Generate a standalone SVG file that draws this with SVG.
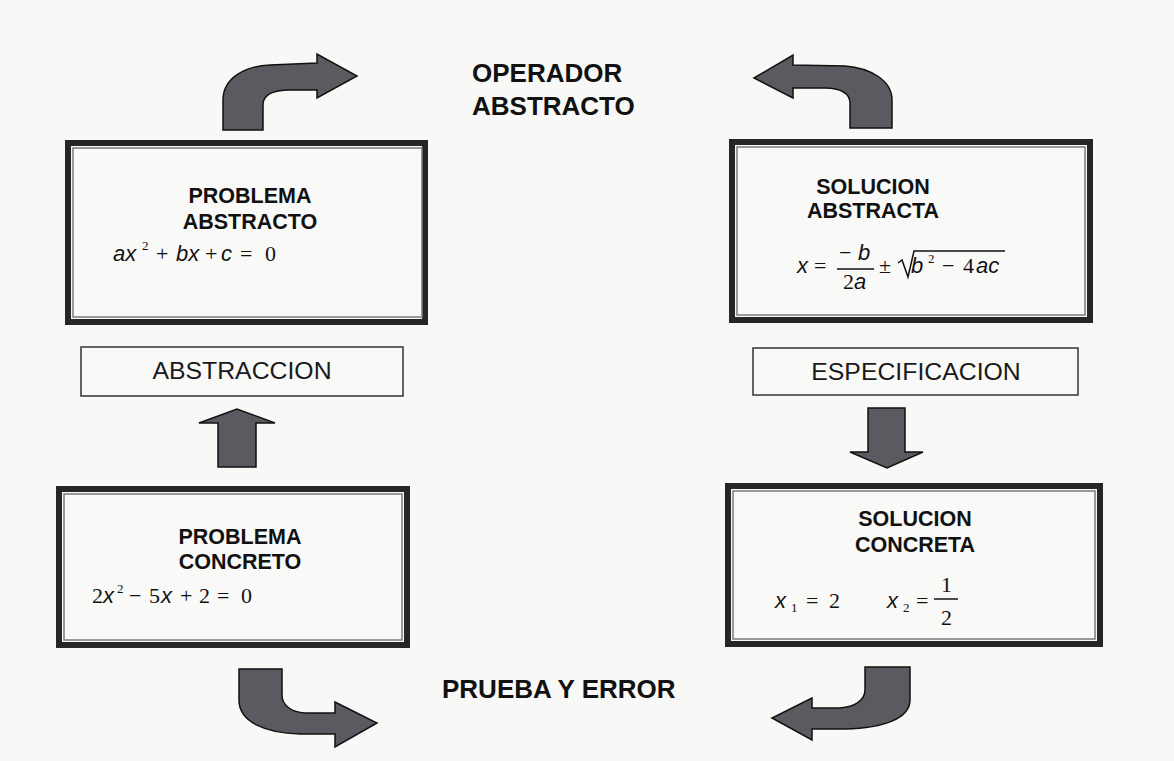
<svg xmlns="http://www.w3.org/2000/svg" width="1174" height="761" viewBox="0 0 1174 761">
<style>
.bg{fill:#f8f8f6}
.outer{fill:#f9f9f7;stroke:#262626;stroke-width:6}
.inner{fill:none;stroke:#7a7a7a;stroke-width:1.5}
.lbl{fill:#f9f9f7;stroke:#333;stroke-width:1.5}
.title{font-family:"Liberation Sans",Arial,sans-serif;font-weight:bold;font-size:21.5px;fill:#111;text-anchor:middle}
.big{font-family:"Liberation Sans",Arial,sans-serif;font-weight:bold;font-size:26px;fill:#111}
.lbltxt{font-family:"Liberation Sans",Arial,sans-serif;font-size:24.8px;fill:#1a1a1a;text-anchor:middle}
.v{font-family:"Liberation Sans",Arial,sans-serif;font-style:italic;font-size:22px;fill:#111}
.n{font-family:"Liberation Serif","Times New Roman",serif;font-size:22px;fill:#111}
.s{font-family:"Liberation Serif","Times New Roman",serif;font-size:13px;fill:#111}
.arrow{fill:#5b5a60;stroke:#111;stroke-width:1.5;stroke-linejoin:miter}
.rule{stroke:#111;stroke-width:1.5;fill:none}
</style>
<rect class="bg" x="0" y="0" width="1174" height="761"/>

<g id="connectors">
  <path class="arrow" d="M223,130 L223,100 C223,78 245,66 270,65 L317,63 L317,54 L357,76 L317,98 L317,90 L290,90 C272,90 263,95 263,105 L263,130 Z"/>
  <path class="arrow" d="M754,78 L793,55 L793,65 L845,66 C870,68 892,80 892,100 L892,128 L850,128 L850,103 C850,93 840,88 825,88 L793,88 L793,98 Z"/>
  <path class="arrow" d="M218,467 L218,423 L199,423 L237,409 L275,423 L256,423 L256,467 Z"/>
  <path class="arrow" d="M868,408 L905,408 L905,452 L923,452 L887,468 L850,452 L868,452 Z"/>
  <path class="arrow" d="M239,669 L282,669 L282,695 C282,706 292,712 305,713 L335,713 L335,702 L377,723 L335,747 L335,734 L300,734 C265,733 239,722 239,700 Z"/>
  <path class="arrow" d="M865,667 L910,667 L910,700 C910,718 885,728 845,729 L812,729 L812,740 L772,718 L812,698 L812,708 L840,708 C855,707 865,700 865,690 Z"/>
</g>

<g id="operador-abstracto">
  <text class="big" x="472" y="82">OPERADOR</text>
  <text class="big" x="472" y="115">ABSTRACTO</text>
</g>

<g id="prueba-error">
  <text class="big" x="442" y="698">PRUEBA Y ERROR</text>
</g>

<g id="problema-abstracto">
  <rect class="outer" x="68" y="143" width="357" height="179"/>
  <rect class="inner" x="73" y="148" width="349" height="169"/>
  <text class="title" x="250" y="203">PROBLEMA</text>
  <text class="title" x="250" y="229">ABSTRACTO</text>
  <text class="v" x="113" y="261">ax</text>
  <text class="s" x="142" y="250">2</text>
  <text class="n" x="156" y="261">+</text>
  <text class="v" x="176" y="261">bx</text>
  <text class="n" x="205" y="261">+</text>
  <text class="v" x="221" y="261">c</text>
  <text class="n" x="240" y="261">=</text>
  <text class="n" x="265" y="261">0</text>
</g>

<g id="solucion-abstracta">
  <rect class="outer" x="732" y="142" width="358" height="178"/>
  <rect class="inner" x="737" y="147" width="348" height="168"/>
  <text class="title" x="873" y="194">SOLUCION</text>
  <text class="title" x="873" y="218">ABSTRACTA</text>
  <text class="v" x="797" y="273">x</text>
  <text class="n" x="814" y="273">=</text>
  <text class="n" x="839" y="260">−</text>
  <text class="v" x="858" y="260">b</text>
  <line class="rule" x1="837" y1="269" x2="874" y2="269"/>
  <text class="n" x="843" y="289">2</text>
  <text class="v" x="854" y="289">a</text>
  <text class="n" x="879" y="273">±</text>
  <path class="rule" d="M898,263 L902,260 L908,277 L914,251 L1005,251"/>
  <text class="v" x="911" y="273">b</text>
  <text class="s" x="928" y="263">2</text>
  <text class="n" x="942" y="273">−</text>
  <text class="n" x="963" y="273">4</text>
  <text class="v" x="976" y="273">ac</text>
</g>

<g id="abstraccion">
  <rect class="lbl" x="81" y="347" width="322" height="49"/>
  <text class="lbltxt" x="242" y="379">ABSTRACCION</text>
</g>

<g id="especificacion">
  <rect class="lbl" x="753" y="348" width="325" height="47"/>
  <text class="lbltxt" x="916" y="380">ESPECIFICACION</text>
</g>

<g id="problema-concreto">
  <rect class="outer" x="59" y="489" width="348" height="156"/>
  <rect class="inner" x="64" y="494" width="338" height="146"/>
  <text class="title" x="240" y="544">PROBLEMA</text>
  <text class="title" x="240" y="569">CONCRETO</text>
  <text class="n" x="92" y="603">2</text>
  <text class="v" x="103" y="603">x</text>
  <text class="s" x="117" y="593">2</text>
  <text class="n" x="129" y="603">−</text>
  <text class="n" x="149" y="603">5</text>
  <text class="v" x="161" y="603">x</text>
  <text class="n" x="180" y="603">+</text>
  <text class="n" x="199" y="603">2</text>
  <text class="n" x="217" y="603">=</text>
  <text class="n" x="241" y="603">0</text>
</g>

<g id="solucion-concreta">
  <rect class="outer" x="728" y="486" width="372" height="158"/>
  <rect class="inner" x="733" y="491" width="362" height="148"/>
  <text class="title" x="915" y="526">SOLUCION</text>
  <text class="title" x="915" y="552">CONCRETA</text>
  <text class="v" x="775" y="608">x</text>
  <text class="s" x="791" y="612">1</text>
  <text class="n" x="806" y="608">=</text>
  <text class="n" x="829" y="608">2</text>
  <text class="v" x="887" y="608">x</text>
  <text class="s" x="903" y="612">2</text>
  <text class="n" x="916" y="608">=</text>
  <text class="n" x="941" y="592">1</text>
  <line class="rule" x1="934" y1="599" x2="958" y2="599"/>
  <text class="n" x="941" y="625">2</text>
</g>
</svg>
